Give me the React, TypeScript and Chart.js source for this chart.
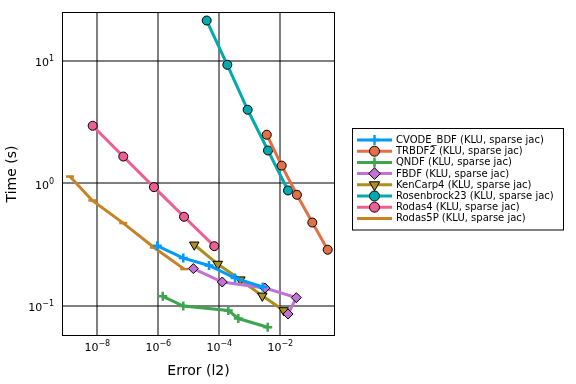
import React, { useEffect, useRef } from "react";
import { Chart, registerables } from "chart.js";

Chart.register(...registerables);

const seriesNames = [
  "CVODE_BDF (KLU, sparse jac)",
  "TRBDF2 (KLU, sparse jac)",
  "QNDF (KLU, sparse jac)",
  "FBDF (KLU, sparse jac)",
  "KenCarp4 (KLU, sparse jac)",
  "Rosenbrock23 (KLU, sparse jac)",
  "Rodas4 (KLU, sparse jac)",
  "Rodas5P (KLU, sparse jac)",
];

const cvodeErr = [9.3e-7, 6.6e-6, 4.6e-5, 3.3e-4, 2.65e-3];
const cvodeTime = [0.31, 0.246, 0.214, 0.169, 0.143];

const trbdf2Err = [3.6e-3, 1.11e-2, 3.5e-2, 0.112, 0.358];
const trbdf2Time = [2.5, 1.4, 0.809, 0.48, 0.288];

const qndfErr = [1.4e-6, 6.6e-6, 1.97e-4, 4.2e-4, 3.86e-3];
const qndfTime = [0.12, 0.1, 0.092, 0.079, 0.067];

const fbdfErr = [1.41e-5, 1.25e-4, 3.15e-3, 3.35e-2, 1.79e-2];
const fbdfTime = [0.202, 0.157, 0.14, 0.117, 0.086];

const kencarpErr = [1.51e-5, 8.9e-5, 4.9e-4, 2.57e-3, 1.29e-2];
const kencarpTime = [0.316, 0.22, 0.164, 0.121, 0.092];

const rosenErr = [3.86e-5, 1.83e-4, 8.5e-4, 3.95e-3, 1.79e-2];
const rosenTime = [21.4, 9.31, 4.0, 1.86, 0.877];

const rodas4Err = [7.06e-9, 7.1e-8, 7.2e-7, 6.97e-6, 6.85e-5];
const rodas4Time = [2.96, 1.66, 0.934, 0.535, 0.308];

const rodas5pErr = [1.27e-9, 6.85e-9, 7.1e-8, 7.2e-7, 7.1e-6];
const rodas5pTime = [1.14, 0.727, 0.475, 0.3, 0.2];

const xTicks = [1e-8, 1e-6, 1e-4, 1e-2];
const yTicks = [1e-1, 1, 10];

const colors = ["#009AFA", "#E36F47", "#3EA44E", "#C371D2", "#AC8E18", "#00AAAE", "#ED5E93", "#C68225"];

function expOf(v: number): string {
  const e = Math.round(Math.log10(v));
  return e < 0 ? "\u2212" + String(-e) : String(e);
}

function pts(xs: number[], ys: number[]) {
  return xs.map((x, i) => ({ x, y: ys[i] }));
}

const FONT = "'DejaVu Sans', sans-serif";
const MAIN_FONT = "11px " + FONT;
const EXP_FONT = "8px " + FONT;

export default function App() {
  const ref = useRef<HTMLCanvasElement | null>(null);

  useEffect(() => {
    if (!ref.current) return;
    const styles = [
      { style: "cross", r: 4.5, bw: 2.5, fill: colors[0], border: colors[0], rot: 0 },
      { style: "circle", r: 4.5, bw: 1, fill: colors[1], border: "#000", rot: 0 },
      { style: "cross", r: 4.5, bw: 2.5, fill: colors[2], border: colors[2], rot: 0 },
      { style: "rectRot", r: 5, bw: 1, fill: colors[3], border: "#000", rot: 0 },
      { style: "triangle", r: 5.5, bw: 1, fill: colors[4], border: "#000", rot: 180 },
      { style: "circle", r: 4.5, bw: 1, fill: colors[5], border: "#000", rot: 0 },
      { style: "circle", r: 4.5, bw: 1, fill: colors[6], border: "#000", rot: 0 },
      { style: "line", r: 4, bw: 2.5, fill: colors[7], border: colors[7], rot: 0 },
    ];
    const dataArr = [
      pts(cvodeErr, cvodeTime),
      pts(trbdf2Err, trbdf2Time),
      pts(qndfErr, qndfTime),
      pts(fbdfErr, fbdfTime),
      pts(kencarpErr, kencarpTime),
      pts(rosenErr, rosenTime),
      pts(rodas4Err, rodas4Time),
      pts(rodas5pErr, rodas5pTime),
    ];
    const datasets = seriesNames.map((name, i) => ({
      label: name,
      data: dataArr[i],
      borderColor: colors[i],
      backgroundColor: colors[i],
      borderWidth: 3,
      pointStyle: styles[i].style as any,
      pointRadius: styles[i].r,
      pointBackgroundColor: styles[i].fill,
      pointBorderColor: styles[i].border,
      pointBorderWidth: styles[i].bw,
      pointRotation: styles[i].rot,
      showLine: true,
      tension: 0,
    }));

    const frameLegendTicks = {
      id: "frameLegendTicks",
      afterDraw(chart: any) {
        const ctx = chart.ctx as CanvasRenderingContext2D;
        const a = chart.chartArea;
        ctx.save();
        ctx.strokeStyle = "#000";
        ctx.lineWidth = 1;
        ctx.strokeRect(a.left + 0.5, a.top + 0.5, a.right - a.left - 1, a.bottom - a.top - 1);

        // tick labels with superscript exponents
        ctx.fillStyle = "#000";
        ctx.textBaseline = "alphabetic";
        ctx.textAlign = "left";
        const xs = chart.scales.x;
        xs.ticks.forEach((t: any) => {
          const px = xs.getPixelForValue(t.value);
          const ex = expOf(t.value);
          ctx.font = MAIN_FONT;
          const w1 = ctx.measureText("10").width;
          ctx.font = EXP_FONT;
          const w2 = ctx.measureText(ex).width;
          const x0 = px - (w1 + w2) / 2;
          ctx.font = MAIN_FONT;
          ctx.fillText("10", x0, a.bottom + 15);
          ctx.font = EXP_FONT;
          ctx.fillText(ex, x0 + w1, a.bottom + 10);
        });
        const ys = chart.scales.y;
        ys.ticks.forEach((t: any) => {
          const py = ys.getPixelForValue(t.value);
          const ex = expOf(t.value);
          ctx.font = MAIN_FONT;
          const w1 = ctx.measureText("10").width;
          ctx.font = EXP_FONT;
          const w2 = ctx.measureText(ex).width;
          const right = a.left - 8;
          ctx.font = MAIN_FONT;
          ctx.fillText("10", right - w2 - w1, py + 5.5);
          ctx.font = EXP_FONT;
          ctx.fillText(ex, right - w2, py + 0.5);
        });

        // legend
        const bx = 352.5, by = 128.5, bw = 211, bh = 101.5;
        ctx.fillStyle = "#fff";
        ctx.fillRect(bx, by, bw, bh);
        ctx.strokeStyle = "#000";
        ctx.lineWidth = 1;
        ctx.strokeRect(bx, by, bw, bh);
        ctx.font = "10px " + FONT;
        ctx.textBaseline = "middle";
        ctx.textAlign = "left";
        chart.data.datasets.forEach((ds: any, i: number) => {
          const y = 140 + i * 11.2;
          ctx.strokeStyle = ds.borderColor;
          ctx.lineWidth = 3;
          ctx.beginPath();
          ctx.moveTo(357, y);
          ctx.lineTo(392, y);
          ctx.stroke();
          if (ds.pointStyle !== "line") {
            ctx.fillStyle = ds.pointBackgroundColor;
            ctx.strokeStyle = ds.pointBorderColor;
            ctx.lineWidth = ds.pointBorderWidth;
            drawPoint(ctx, ds.pointStyle, ds.pointRadius + 0.5, 374.5, y, ds.pointRotation);
          }
          ctx.fillStyle = "#000";
          ctx.fillText(ds.label, 396, y + 0.5);
        });
        ctx.restore();
      },
    };

    const chart = new Chart(ref.current, {
      type: "line",
      data: { datasets: datasets as any },
      options: {
        animation: false,
        responsive: true,
        maintainAspectRatio: false,
        layout: { padding: { left: 0, top: 12, right: 241, bottom: 0 } },
        plugins: { legend: { display: false }, tooltip: { enabled: false } },
        scales: {
          x: {
            type: "logarithmic",
            min: Math.pow(10, -9.157),
            max: Math.pow(10, -0.207),
            afterBuildTicks: (s: any) => {
              s.ticks = xTicks.map((v) => ({ value: v }));
            },
            afterFit: (s: any) => {
              s.height = 48;
            },
            ticks: { display: false },
            grid: { color: "rgba(0,0,0,0.5)", lineWidth: 2, drawTicks: false },
            border: { display: false },
            title: {
              display: true,
              text: "Error (l2)",
              font: { family: FONT, size: 14 },
              color: "#000",
              padding: { top: 0, bottom: 4 },
            },
          },
          y: {
            type: "logarithmic",
            min: Math.pow(10, -1.245),
            max: Math.pow(10, 1.4),
            afterBuildTicks: (s: any) => {
              s.ticks = yTicks.map((v) => ({ value: v }));
            },
            afterFit: (s: any) => {
              s.width = 62;
            },
            ticks: { display: false },
            grid: { color: "rgba(0,0,0,0.5)", lineWidth: 2, drawTicks: false },
            border: { display: false },
            title: {
              display: true,
              text: "Time (s)",
              font: { family: FONT, size: 14 },
              color: "#000",
              padding: { top: 4, bottom: 0 },
            },
          },
        },
      },
      plugins: [frameLegendTicks],
    });
    return () => chart.destroy();
  }, []);

  return (
    <div style={{ position: "fixed", left: 0, top: 0, width: 576, height: 384, background: "#fff" }}>
      <canvas ref={ref} />
    </div>
  );
}

function drawPoint(ctx: CanvasRenderingContext2D, style: string, r: number, x: number, y: number, rot: number) {
  ctx.save();
  ctx.translate(x, y);
  ctx.rotate((rot * Math.PI) / 180);
  ctx.beginPath();
  if (style === "circle") {
    ctx.arc(0, 0, r, 0, Math.PI * 2);
    ctx.fill();
    ctx.stroke();
  } else if (style === "rectRot") {
    const d = r * Math.SQRT2 * 0.75;
    ctx.moveTo(0, -d);
    ctx.lineTo(d, 0);
    ctx.lineTo(0, d);
    ctx.lineTo(-d, 0);
    ctx.closePath();
    ctx.fill();
    ctx.stroke();
  } else if (style === "triangle") {
    const side = (3 * r) / Math.sqrt(3);
    const h = (side * Math.sqrt(3)) / 2;
    ctx.moveTo(0, -(2 * h) / 3);
    ctx.lineTo(side / 2, h / 3);
    ctx.lineTo(-side / 2, h / 3);
    ctx.closePath();
    ctx.fill();
    ctx.stroke();
  } else if (style === "cross") {
    ctx.moveTo(0, -r);
    ctx.lineTo(0, r);
    ctx.moveTo(-r, 0);
    ctx.lineTo(r, 0);
    ctx.stroke();
  }
  ctx.restore();
}
